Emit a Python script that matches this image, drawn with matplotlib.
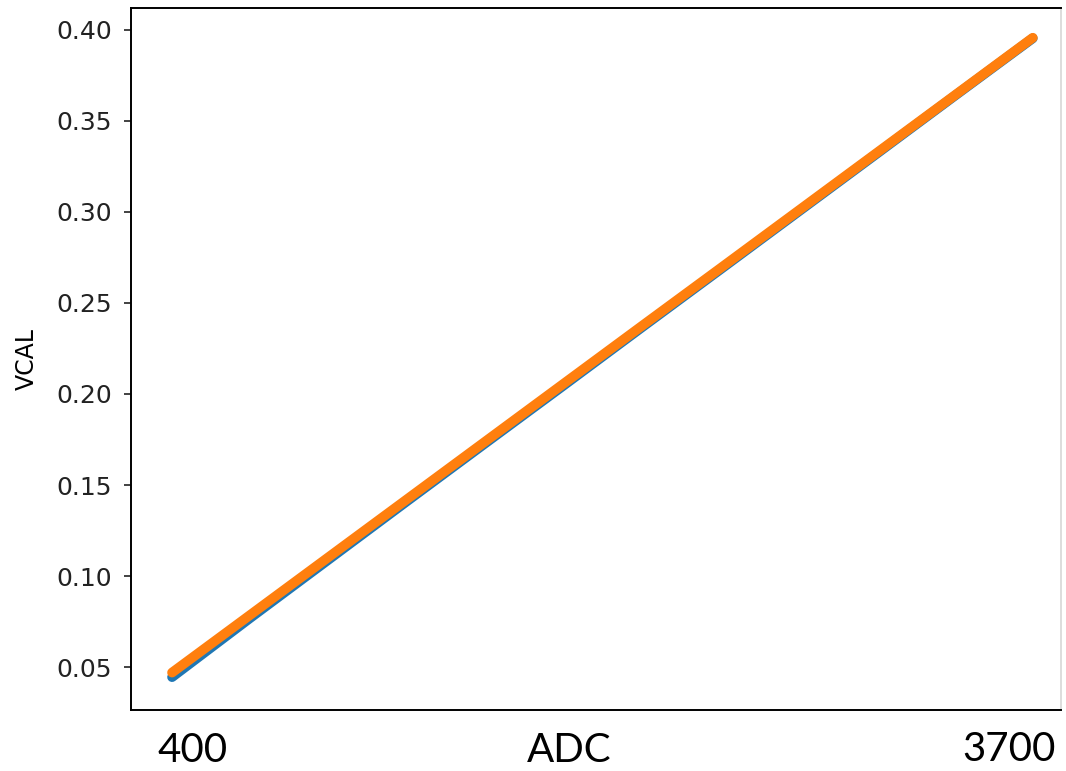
import matplotlib.pyplot as plt
import numpy as np

# ADC readings and the calibrated VCAL values
adc = [400, 700, 1000, 1300, 1600, 1900, 2200, 2500, 2800, 3100, 3400, 3700]
vcal_measured = [0.0445, 0.0770, 0.1090, 0.1410, 0.1728, 0.2045, 0.2364, 0.2681, 0.2999, 0.3317, 0.3636, 0.3953]
vcal_fit = [0.0470, 0.0787, 0.1104, 0.1421, 0.1738, 0.2055, 0.2372, 0.2688, 0.3005, 0.3322, 0.3639, 0.3956]
yticks = [0.05, 0.10, 0.15, 0.20, 0.25, 0.30, 0.35, 0.40]
bottom_labels = ["400", "ADC", "3700"]

fig = plt.figure(figsize=(10.66, 7.71), dpi=100)
ax = fig.add_axes([0.123, 0.079, 0.872, 0.911])

ax.plot(adc, vcal_measured, color="#1f77b4", lw=7, solid_capstyle="round")
ax.plot(adc, vcal_fit, color="#ff7f0e", lw=7, solid_capstyle="round")

ax.set_xlim(243, 3807)
ax.set_ylim(0.0264, 0.4121)
ax.set_xticks([])
ax.set_yticks(yticks)
ax.set_yticklabels([f"{t:.2f}" for t in yticks])
ax.tick_params(axis="y", labelsize=18, length=5, width=1.2, pad=9, colors="#222222")
ax.set_ylabel("VCAL", fontsize=17, labelpad=12)

for s in ax.spines.values():
    s.set_linewidth(1.4)
ax.spines["right"].set_color("#dddddd")

# big annotation text under the axis
fig.text(193 / 1066, 1 - 762 / 771, bottom_labels[0], fontsize=29, family="Lato", ha="center", va="baseline")
fig.text(569 / 1066, 1 - 762 / 771, bottom_labels[1], fontsize=29, family="Lato", ha="center", va="baseline")
fig.text(1009 / 1066, 1 - 761 / 771, bottom_labels[2], fontsize=29, family="Lato", ha="center", va="baseline")

fig.savefig("out.png", dpi=100)
